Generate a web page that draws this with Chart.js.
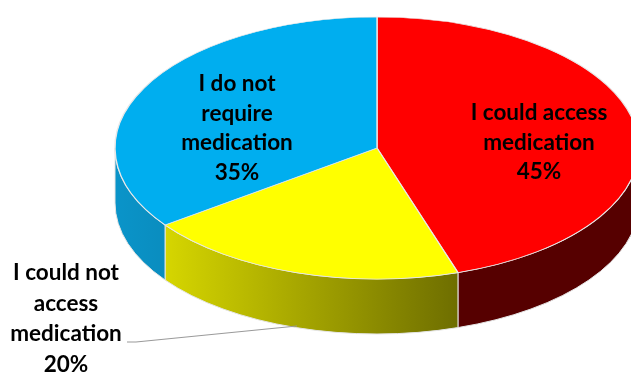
<!DOCTYPE html>
<html>
<head>
<meta charset="utf-8">
<style>
  html, body { margin: 0; padding: 0; background: #fff; overflow: hidden; }
  canvas { display: block; }
</style>
<script src="https://cdn.jsdelivr.net/npm/chart.js@4"></script>
</head>
<body>
<canvas id="pie" width="631" height="372"></canvas>
<script>
const categories = ['I could access medication', 'I could not access medication', 'I do not require medication'];
const shares = [45, 20, 35];
const labelLines = [
    ['I could access', 'medication'],
    ['I could not', 'access', 'medication'],
    ['I do not', 'require', 'medication']
];
const topColors = ['#ff0000', '#ffff00', '#00aeef'];
const wallFrom = ['#560000', '#d6d600', '#0a94c9'];
const wallTo = ['#560000', '#6e6e00', '#0a8dbf'];

// shape of the tilted disc on the canvas
const disc = { cx: 377, cy: 148, rx: 262, ry: 131, depth: 55 };
const labelBoxes = [
    { x: 539, y: 113, gap: 29.5 },
    { x: 66, y: 273, gap: 30.5 },
    { x: 237, y: 84, gap: 29.5 }
];

// side walls, only the part of each slice facing the viewer
const wallsPlugin = {
    id: 'walls',
    beforeDatasetsDraw(chart) {
        const ctx = chart.ctx;
        chart.getDatasetMeta(0).data.forEach((arc, i) => {
            const from = Math.max(arc.startAngle, 0);
            const to = Math.min(arc.endAngle, Math.PI);
            if (from >= to) return;
            const x1 = disc.cx + disc.rx * Math.cos(to);
            const x2 = disc.cx + disc.rx * Math.cos(from);
            const grad = ctx.createLinearGradient(x1, 0, x2, 0);
            grad.addColorStop(0, wallFrom[i]);
            grad.addColorStop(1, wallTo[i]);
            ctx.save();
            ctx.beginPath();
            ctx.ellipse(disc.cx, disc.cy, disc.rx, disc.ry, 0, from, to);
            ctx.ellipse(disc.cx, disc.cy + disc.depth, disc.rx, disc.ry, 0, to, from, true);
            ctx.closePath();
            ctx.fillStyle = grad;
            ctx.fill();
            ctx.strokeStyle = '#e4e4e4';
            ctx.lineWidth = 1;
            ctx.stroke();
            ctx.restore();
        });

        // squash the pie into the disc's top face
        const first = chart.getDatasetMeta(0).data[0];
        const r = first.outerRadius;
        ctx.save();
        ctx.translate(disc.cx, disc.cy);
        ctx.scale(disc.rx / r, disc.ry / r);
        ctx.translate(-first.x, -first.y);
    },
    afterDatasetsDraw(chart) {
        chart.ctx.restore();
    }
};

// slice labels plus the leader line for the yellow slice
const labelsPlugin = {
    id: 'sliceLabels',
    afterDraw(chart) {
        const ctx = chart.ctx;
        ctx.save();
        ctx.strokeStyle = '#9a9a9a';
        ctx.lineWidth = 1.2;
        ctx.beginPath();
        ctx.moveTo(127, 342);
        ctx.lineTo(136, 342);
        ctx.lineTo(297, 326);
        ctx.stroke();

        ctx.fillStyle = '#000';
        ctx.font = 'bold 22.5px Lato, "Open Sans", sans-serif';
        ctx.textAlign = 'center';
        ctx.textBaseline = 'middle';
        labelLines.forEach((lines, i) => {
            const box = labelBoxes[i];
            lines.concat(shares[i] + '%').forEach((line, n) => {
                ctx.fillText(line, box.x, box.y + n * box.gap);
            });
        });
        ctx.restore();
    }
};

new Chart(document.getElementById('pie'), {
    type: 'pie',
    data: {
        labels: categories,
        datasets: [{
            data: shares,
            backgroundColor: topColors,
            borderColor: '#e8e8e8',
            borderWidth: 1
        }]
    },
    options: {
        responsive: false,
        animation: false,
        plugins: { legend: { display: false }, tooltip: { enabled: false } }
    },
    plugins: [wallsPlugin, labelsPlugin]
});
</script>
</body>
</html>
